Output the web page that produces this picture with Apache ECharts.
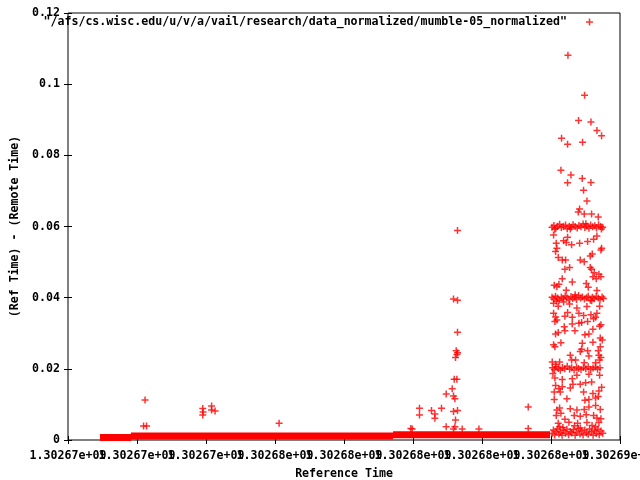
<!DOCTYPE html>
<html>
<head>
<meta charset="utf-8">
<script src="https://cdn.jsdelivr.net/npm/echarts@6/dist/echarts.min.js"></script>
<style>html,body{margin:0;padding:0;background:#fff}#c{width:640px;height:480px}</style>
</head>
<body>
<div id="c"></div>
<script>
// x values: seconds after the first tick of the axis (tick labels are gnuplot's)
const xTickLabels = ["1.30267e+09","1.30267e+09","1.30267e+09","1.30268e+09","1.30268e+09","1.30268e+09","1.30268e+09","1.30268e+09","1.30269e+09"];
const seriesName = '"/afs/cs.wisc.edu/u/v/a/vail/research/data_normalized/mumble-05_normalized"';

// dense baseline band of points (drawn as thick segments)
const baseSegStart = [928, 1826, 9421];
const baseSegEnd   = [1826, 9421, 13973];
const baseSegValue = [0.0007, 0.0011, 0.0015];

const leftPoints = [[2233,0.01124],[2190,0.00393],[2277,0.00393],[3906,0.00885],[3915,0.00787],[3906,0.00703],[4162,0.00955],[4162,0.00843],[4263,0.00815],[6119,0.00469]];

const midPoints = [[11290,0.0589],[11174,0.0396],[11290,0.0393],[11290,0.0303],[11252,0.0251],[11290,0.0245],[11272,0.0240],[11232,0.0232],[11194,0.0171],[11272,0.0171],[11136,0.0144],[10962,0.0129],[11174,0.0124],[11214,0.0116],[10188,0.0089],[10188,0.0070],[10536,0.0083],[10634,0.0073],[10634,0.0061],[10826,0.0089],[11174,0.0080],[11290,0.0083],[11232,0.0056],[9976,0.0031],[10962,0.0037],[11174,0.0031],[11426,0.0031],[11910,0.0031],[9938,0.0032],[11214,0.0037],[13340,0.0093],[13340,0.0032]];

const rightUpper = [[14491,0.1081],[14973,0.0969],[14799,0.0898],[15158,0.0894],[15332,0.0870],[15466,0.0855],[14306,0.0848],[14480,0.0831],[14915,0.0837],[14288,0.0758],[14578,0.0745],[14480,0.0723],[14906,0.0735],[15158,0.0724],[14944,0.0702],[15042,0.0672],[14828,0.0649],[14790,0.0641],[14964,0.0635],[15176,0.0635],[15370,0.0627]];

const band06 = [[14030,0.0598],[14085,0.0603],[14140,0.0595],[14190,0.0601],[14250,0.0606],[14300,0.0597],[14360,0.0600],[14420,0.0604],[14470,0.0594],[14530,0.0601],[14590,0.0598],[14640,0.0605],[14700,0.0600],[14760,0.0596],[14810,0.0603],[14870,0.0599],[14930,0.0607],[14980,0.0597],[15040,0.0601],[15100,0.0595],[15150,0.0604],[15210,0.0599],[15270,0.0602],[15320,0.0596],[15380,0.0605],[15440,0.0600],[15500,0.0598],[14110,0.0592],[14560,0.0593],[15010,0.0608],[15460,0.0593]];

const between0604 = [[14075,0.0576],[14152,0.0553],[14171,0.0539],[14133,0.0530],[14365,0.0560],[14481,0.0570],[14442,0.0555],[14597,0.0549],[14829,0.0553],[15061,0.0558],[15235,0.0564],[15331,0.0573],[15196,0.0523],[15138,0.0517],[15447,0.0534],[15467,0.0539],[14210,0.0513],[14326,0.0506],[14423,0.0506],[14403,0.0480],[14539,0.0485],[14848,0.0506],[14964,0.0501],[15138,0.0485],[15177,0.0480],[15254,0.0470],[15389,0.0466],[15447,0.0459],[15215,0.0459],[14326,0.0453],[14616,0.0444],[14094,0.0435],[14171,0.0431],[14229,0.0438],[14442,0.0421],[15312,0.0453],[15022,0.0440],[15080,0.0429],[15331,0.0420]];

const band04 = [[14030,0.0401],[14080,0.0396],[14130,0.0404],[14190,0.0399],[14240,0.0393],[14300,0.0402],[14350,0.0397],[14410,0.0405],[14460,0.0400],[14520,0.0394],[14580,0.0403],[14630,0.0398],[14690,0.0401],[14740,0.0395],[14800,0.0406],[14860,0.0399],[14910,0.0402],[14970,0.0396],[15030,0.0400],[15080,0.0404],[15140,0.0393],[15200,0.0401],[15250,0.0397],[15310,0.0403],[15370,0.0399],[15420,0.0395],[15480,0.0402],[15520,0.0398],[14160,0.0390],[14700,0.0408],[15180,0.0391]];

const between0402 = [[14075,0.0384],[14210,0.0376],[14365,0.0388],[14539,0.0382],[14751,0.0371],[15041,0.0375],[15409,0.0376],[14075,0.0356],[14133,0.0346],[14171,0.0337],[14403,0.0348],[14481,0.0358],[14616,0.0345],[14809,0.0356],[14945,0.0350],[15157,0.0352],[15293,0.0345],[15331,0.0356],[14113,0.0333],[14384,0.0318],[14616,0.0326],[14809,0.0328],[14887,0.0330],[15061,0.0333],[15235,0.0341],[15409,0.0320],[14210,0.0302],[14403,0.0307],[14693,0.0307],[14983,0.0296],[15099,0.0298],[15215,0.0311],[15447,0.0324],[14133,0.0298],[15428,0.0287],[14287,0.0273],[14075,0.0268],[14906,0.0272],[15215,0.0275],[15486,0.0281],[14887,0.0255],[14848,0.0249],[15061,0.0251],[15428,0.0262],[15370,0.0251],[14113,0.0262],[14558,0.0238],[14597,0.0225],[15099,0.0236],[15389,0.0238],[15447,0.0232],[14036,0.0219],[14133,0.0213],[14249,0.0219],[14713,0.0225],[14964,0.0217],[15293,0.0217],[15409,0.0225]];

const band02 = [[14040,0.0203],[14100,0.0198],[14150,0.0206],[14210,0.0201],[14270,0.0196],[14330,0.0204],[14400,0.0200],[14470,0.0207],[14540,0.0199],[14600,0.0203],[14670,0.0197],[14740,0.0205],[14800,0.0201],[14870,0.0198],[14940,0.0204],[15010,0.0200],[15080,0.0206],[15150,0.0198],[15220,0.0202],[15290,0.0205],[15350,0.0199],[15420,0.0203]];

const belowBand02 = [[14055,0.0187],[14113,0.0174],[14326,0.0170],[14616,0.0172],[14751,0.0182],[15099,0.0185],[15409,0.0182],[14133,0.0153],[14229,0.0144],[14326,0.0150],[14635,0.0157],[14848,0.0157],[15003,0.0161],[15177,0.0163],[14094,0.0135],[14268,0.0135],[14558,0.0146],[14945,0.0135],[15215,0.0131],[15389,0.0138],[15467,0.0148],[14094,0.0114],[14461,0.0116],[14983,0.0112],[15099,0.0114],[15293,0.0118],[15370,0.0122],[14171,0.0084],[14249,0.0090],[14558,0.0088],[14751,0.0084],[14964,0.0086],[15099,0.0093],[15293,0.0097],[15428,0.0086],[14152,0.0069],[14287,0.0075],[14403,0.0058],[14674,0.0069],[14848,0.0067],[15022,0.0071],[15235,0.0069],[15331,0.0062],[15447,0.0060],[14210,0.0047],[14519,0.0050],[14771,0.0047],[15041,0.0049],[15389,0.0049],[14345,0.0035],[14848,0.0034],[15293,0.0037]];

const rightBottom = [[14030,0.0018],[14070,0.0028],[14110,0.0014],[14150,0.0024],[14190,0.0031],[14230,0.0017],[14280,0.0022],[14320,0.0013],[14370,0.0027],[14420,0.0019],[14460,0.0030],[14510,0.0015],[14560,0.0024],[14600,0.0020],[14650,0.0029],[14700,0.0013],[14740,0.0022],[14790,0.0032],[14840,0.0017],[14890,0.0025],[14930,0.0014],[14980,0.0028],[15030,0.0020],[15080,0.0016],[15120,0.0031],[15170,0.0023],[15220,0.0013],[15260,0.0027],[15310,0.0018],[15360,0.0030],[15400,0.0015],[15450,0.0025],[15500,0.0019],[14250,0.0037],[14680,0.0040],[15190,0.0041]];

const plusPath = 'path://M2.75,0h1.5v2.75h2.75v1.5h-2.75v2.75h-1.5v-2.75h-2.75v-1.5h2.75z';
const font = {fontFamily: 'DejaVu Sans Mono', fontWeight: 'bold', fontSize: 11.6, color: '#000'};

const allPoints = [].concat(leftPoints, midPoints, rightUpper, band06, between0604, band04, between0402, band02, belowBand02, rightBottom);

const series = [];
for (let i = 0; i < baseSegStart.length; i++) {
  series.push({
    type: 'line', name: 'base' + i, silent: true, symbol: 'none',
    data: [[baseSegStart[i], baseSegValue[i]], [baseSegEnd[i], baseSegValue[i]]],
    lineStyle: {color: '#ff0000', width: 7, cap: 'butt'}, z: 2
  });
}
series.push({
  type: 'scatter', name: seriesName, symbol: plusPath, symbolSize: 7,
  itemStyle: {color: '#ff0000'}, data: allPoints, z: 3
});

const tickStyle = {show: true, inside: true, length: 4, lineStyle: {color: '#000'}};

const chart = echarts.init(document.getElementById('c'), null, {renderer: 'canvas'});
chart.setOption({
  animation: false,
  backgroundColor: '#fff',
  grid: {left: 68, right: 20, top: 13, bottom: 40, containLabel: false, outerBoundsMode: 'none',
         show: true, borderColor: '#000', borderWidth: 1, backgroundColor: 'transparent'},
  legend: {
    data: [{name: seriesName, icon: plusPath}],
    right: 47, top: 16, padding: 0, align: 'right',
    itemWidth: 7, itemHeight: 7,
    textStyle: Object.assign({}, font, {padding: [0, 14, 0, 0]}),
    itemStyle: {color: '#ff0000'}
  },
  xAxis: [{
    type: 'value', min: 0, max: 16000, interval: 2000,
    name: 'Reference Time', nameLocation: 'middle', nameGap: 28,
    nameTextStyle: font,
    axisLine: {show: false},
    axisTick: tickStyle,
    axisLabel: {show: false},
    splitLine: {show: false}
  }, {
    type: 'value', position: 'top', min: 0, max: 16000, interval: 2000,
    axisLine: {show: false}, axisLabel: {show: false}, splitLine: {show: false},
    axisTick: tickStyle
  }, {
    type: 'category', position: 'bottom', data: xTickLabels, boundaryGap: false,
    axisLine: {show: false}, axisTick: {show: false}, splitLine: {show: false},
    axisLabel: Object.assign({}, font, {margin: 10, interval: 0, hideOverlap: false, showMinLabel: true, showMaxLabel: true})
  }],
  yAxis: [{
    type: 'value', min: 0, max: 0.12, interval: 0.02,
    name: '(Ref Time) - (Remote Time)', nameLocation: 'middle', nameGap: 46, nameRotate: 90,
    nameTextStyle: font,
    axisLine: {show: false},
    axisTick: tickStyle,
    axisLabel: Object.assign({}, font, {margin: 8, formatter: v => String(+v.toFixed(2))}),
    splitLine: {show: false}
  }, {
    type: 'value', position: 'right', min: 0, max: 0.12, interval: 0.02,
    axisLine: {show: false}, axisLabel: {show: false}, splitLine: {show: false},
    axisTick: tickStyle
  }],
  series: series
});
</script>
</body>
</html>
